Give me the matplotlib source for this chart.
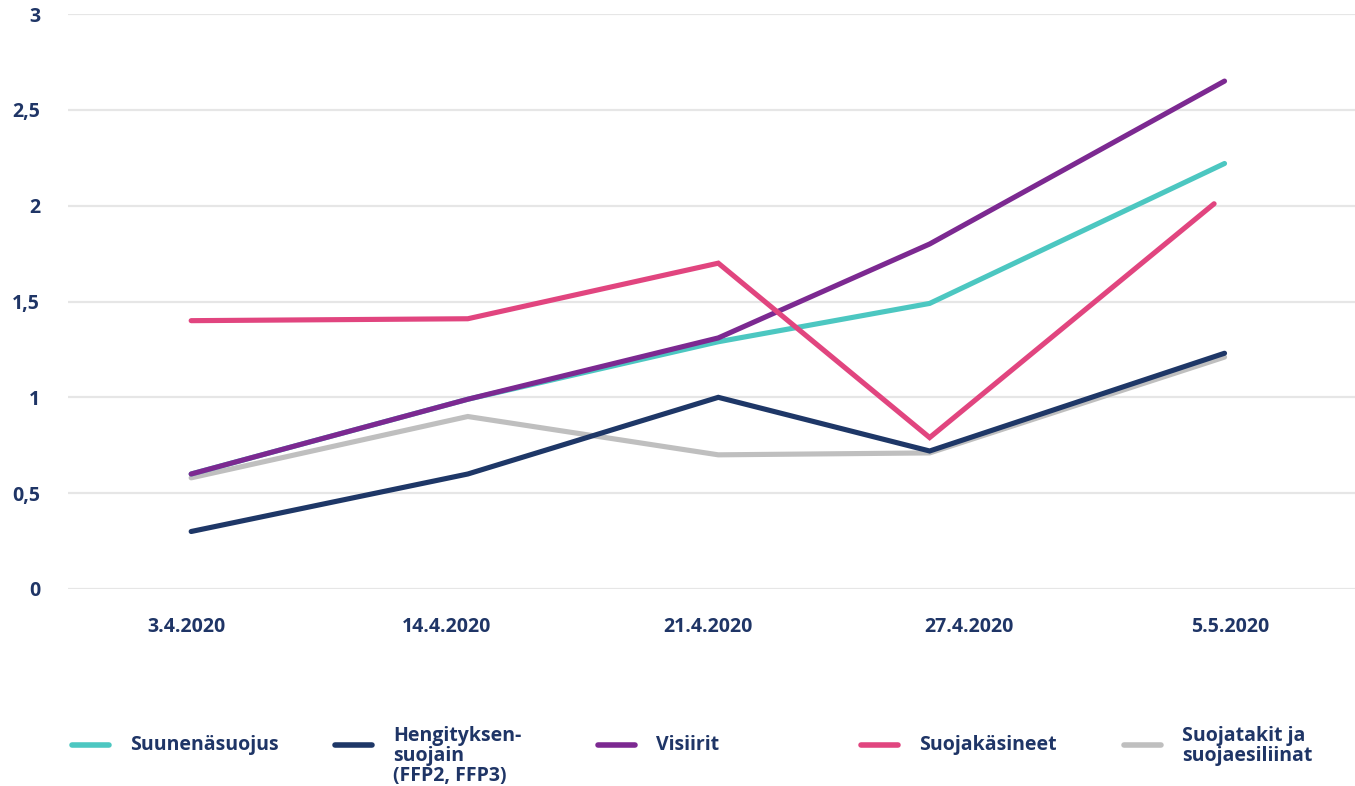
import matplotlib.pyplot as plt
from matplotlib.lines import Line2D

plt.rcParams['font.family'] = ['Open Sans', 'DejaVu Sans']
plt.rcParams['font.weight'] = 'bold'

dates = ["3.4.2020", "14.4.2020", "21.4.2020", "27.4.2020", "5.5.2020"]
# where each measurement sits along the date axis (not evenly placed in the original)
x_pos = [0.02, 1.08, 2.04, 2.85, 3.98]
x_pos_gloves = [0.02, 1.08, 2.04, 2.85, 3.94]

suunenasuojus = [0.60, 0.99, 1.29, 1.49, 2.22]
hengityksensuojain = [0.30, 0.60, 1.00, 0.72, 1.23]
visiirit = [0.60, 0.99, 1.31, 1.80, 2.65]
suojakasineet = [1.40, 1.41, 1.70, 0.79, 2.01]
suojatakit = [0.58, 0.90, 0.70, 0.71, 1.21]

y_ticks = [0, 0.5, 1, 1.5, 2, 2.5, 3]
y_tick_labels = ["0", "0,5", "1", "1,5", "2", "2,5", "3"]

names = ["Suunenäsuojus", "Hengityksen-\nsuojain\n(FFP2, FFP3)", "Visiirit",
         "Suojakäsineet", "Suojatakit ja\nsuojaesiliinat"]
colors = ["#4cc7c1", "#1e3767", "#7c2991", "#e1457f", "#bfbfbf"]
text_color = "#1f3566"
fs = 14

fig = plt.figure(figsize=(13.55, 7.86), dpi=100)
ax = fig.add_axes([68 / 1355, 1 - 589 / 786, 1 - 68 / 1355, (589 - 14) / 786])

series = [
    (x_pos, suunenasuojus, 2),
    (x_pos, hengityksensuojain, 3),
    (x_pos, visiirit, 4),
    (x_pos_gloves, suojakasineet, 5),
    (x_pos, suojatakit, 1),
]
for (xs, ys, z), c in zip(series, colors):
    ax.plot(xs, ys, color=c, lw=3.7, solid_capstyle='round',
            solid_joinstyle='miter', zorder=z)

ax.set_ylim(0, 3)
ax.set_xlim(-0.452, 4.48)
ax.set_yticks(y_ticks)
ax.set_yticklabels(y_tick_labels)
ax.set_xticks(range(len(dates)))
ax.set_xticklabels(dates)
ax.tick_params(axis='y', length=0, pad=20, labelsize=fs, labelcolor=text_color)
ax.tick_params(axis='x', length=0, pad=20, labelsize=fs, labelcolor=text_color)
for lab in ax.get_xticklabels() + ax.get_yticklabels():
    lab.set_fontweight('bold')
ax.grid(axis='y', color='#e6e6e6', lw=1.6)
ax.set_axisbelow(True)
for s in ax.spines.values():
    s.set_visible(False)
ax.axhline(0, color='#dfe1e8', lw=1.8, zorder=0.5)

# legend along the bottom, built by hand to keep the multi-line labels top aligned
W, H = 1355, 786
for i, (name, c) in enumerate(zip(names, colors)):
    x0 = 72 + 263 * i
    yh = 1 - 745 / H
    fig.add_artist(Line2D([x0 / W, (x0 + 37) / W], [yh, yh], color=c, lw=4,
                          solid_capstyle='round', transform=fig.transFigure))
    if "\n" in name:
        fig.text((x0 + 58) / W, 1 - 726 / H, name, va='top', ha='left',
                 fontsize=fs, fontweight='bold', color=text_color, linespacing=1.0)
    else:
        fig.text((x0 + 58) / W, yh, name, va='center', ha='left',
                 fontsize=fs, fontweight='bold', color=text_color)

fig.savefig("out.png", dpi=100)
